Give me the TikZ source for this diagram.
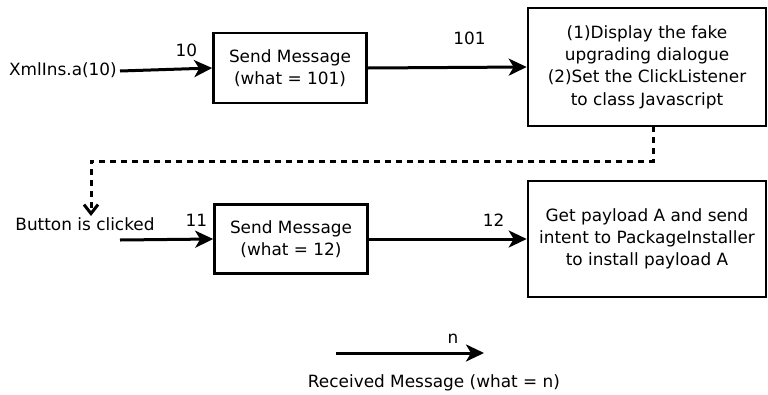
\documentclass[tikz,border=0pt]{standalone}
\usepackage{fontspec}
\setmainfont{DejaVu Sans}
\usetikzlibrary{arrows.meta}
\begin{document}
\begin{tikzpicture}[x=1pt,y=-1pt,
  every node/.style={font=\fontsize{16.9}{22.3}\selectfont, inner sep=0pt},
  box/.style={draw, line width=2.6pt, align=center},
  flow/.style={line width=3pt, -{Stealth[length=18pt,width=17pt,inset=5pt]}},
  trigger/.style={line width=3pt, dash pattern=on 6pt off 5pt, -{Straight Barb[length=9pt,width=14pt,line width=3pt]}},
  lbl/.style={}]
\useasboundingbox (0,0) rectangle (768,394);

% first row
\node (src) at (63,70) {XmlIns.a(10)};
\coordinate (srcEnd) at (120,71);
\node[box, minimum width=153pt, minimum height=70pt] (send1) at (290,68) {Send Message\\(what = 101)};
\node[box, minimum width=238pt, minimum height=118pt] (dlg) at (647,67) {(1)Display the fake\\upgrading dialogue\\(2)Set the ClickListener\\to class Javascript};
\draw[flow] (srcEnd) -- (send1.west) node[lbl, pos=0.72, above=11pt] {10};
\draw[flow] (send1.east) -- (dlg.west) node[lbl, pos=0.64, above=21pt] {101};

% click trigger
\node (btn) at (85,224) {Button is clicked};
\coordinate (dTop) at (653,126);
\coordinate (dMid) at (653,161);
\coordinate (dLeft) at (91,161);
\coordinate (dEnd) at (91,216);
\draw[trigger] (dTop) -- (dMid) -- (dLeft) -- (dEnd);

% second row
\coordinate (btnEnd) at (120,240);
\node[box, minimum width=153pt, minimum height=69pt] (send2) at (291,239) {Send Message\\(what = 12)};
\node[box, minimum width=238pt, minimum height=116pt] (inst) at (647,239) {Get payload A and send\\intent to PackageInstaller\\to install payload A};
\draw[flow] (btnEnd) -- (send2.west) node[lbl, pos=0.82, above=11pt] {11};
\draw[flow] (send2.east) -- (inst.west) node[lbl, pos=0.79, above=11pt] {12};

% legend
\coordinate (lgA) at (336,353);
\coordinate (lgB) at (484,353);
\draw[flow] (lgA) -- (lgB) node[lbl, pos=0.79, above=8pt] {n};
\node (lgText) at (434,383) {Received Message (what = n)};
\end{tikzpicture}
\end{document}
